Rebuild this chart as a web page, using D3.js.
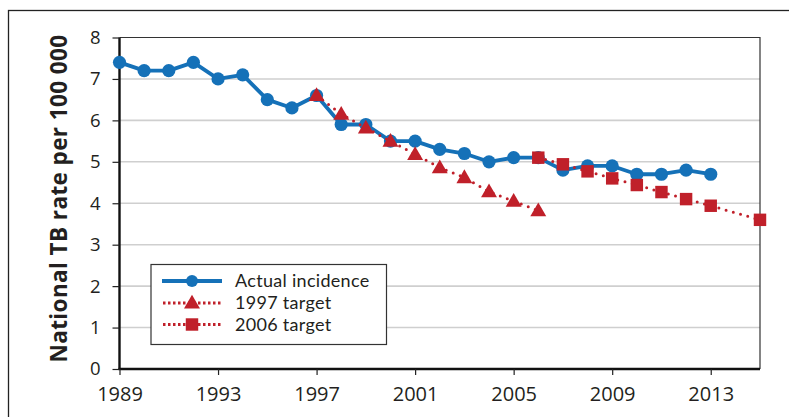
<!DOCTYPE html>
<html><head><meta charset="utf-8">
<script src="https://cdn.jsdelivr.net/npm/d3@7"></script>
<style>body{margin:0;background:#fff;} svg{display:block;}</style>
</head><body>
<svg id="c" width="789" height="417"></svg>
<script>
const actualYears = [1989,1990,1991,1992,1993,1994,1995,1996,1997,1998,1999,2000,2001,2002,2003,2004,2005,2006,2007,2008,2009,2010,2011,2012,2013];
const actualValues = [7.4,7.2,7.2,7.4,7.0,7.1,6.5,6.3,6.6,5.9,5.9,5.5,5.5,5.3,5.2,5.0,5.1,5.1,4.8,4.9,4.9,4.7,4.7,4.8,4.7];
const target1997Years = [1997,1998,1999,2000,2001,2002,2003,2004,2005,2006];
const target1997Values = [6.6,6.15,5.82,5.5,5.18,4.86,4.62,4.28,4.05,3.82];
const target2006Years = [2006,2007,2008,2009,2010,2011,2012,2013,2015];
const target2006Values = [5.1,4.94,4.77,4.6,4.44,4.27,4.1,3.94,3.6];
const xTickLabels = [1989,1993,1997,2001,2005,2009,2013];
const yTickLabels = [0,1,2,3,4,5,6,7,8];
const legendLabels = ["Actual incidence","1997 target","2006 target"];
const yTitle = "National TB rate per 100 000";

const blue = "#1571b8", red = "#c0202a", ink = "#231f20";
const svg = d3.select("#c");
const L = 119.5, R = 760, T = 37.5, B = 369;
const x = d3.scaleLinear().domain([1989,2015]).range([L,R]);
const y = d3.scaleLinear().domain([0,8]).range([B,T]);
const font = "'Open Sans', 'Noto Sans', sans-serif";

// outer frame
svg.append("rect").attr("x",8.5).attr("y",10.5).attr("width",900).attr("height",600)
  .attr("fill","none").attr("stroke","#222").attr("stroke-width",1.3);

// gridlines
svg.append("g").selectAll("line").data(yTickLabels.filter(d=>d>0 && d<8)).join("line")
  .attr("x1",L).attr("x2",R).attr("y1",d=>y(d)).attr("y2",d=>y(d))
  .attr("stroke","#cfcfcf").attr("stroke-width",1.6);

// plot border top/right
svg.append("path").attr("d",`M${L},${T}H${R}V${B}`).attr("fill","none").attr("stroke","#333").attr("stroke-width",1.2);

// axes
const xAxis = svg.append("g").attr("transform",`translate(0,${B})`)
  .call(d3.axisBottom(x).tickValues(xTickLabels).tickFormat(d3.format("d")).tickSize(6).tickPadding(12));
const yAxis = svg.append("g").attr("transform",`translate(${L},0)`)
  .call(d3.axisLeft(y).tickValues(yTickLabels).tickSize(7).tickPadding(12));
[xAxis,yAxis].forEach(g=>{
  g.select(".domain").attr("stroke","#111").attr("stroke-width",2.4);
  g.selectAll(".tick line").attr("stroke","#222").attr("stroke-width",1.2);
  g.selectAll("text").attr("font-family",font).attr("fill",ink);
});
xAxis.selectAll("text").attr("font-size",20);
yAxis.selectAll("text").attr("font-size",18.5);
xAxis.select(".domain").attr("d",`M${L-1},0H${R}`);
yAxis.select(".domain").attr("d",`M0,${B}V${T}`);

// y title
svg.append("text").attr("transform",`translate(67,198.5) rotate(-90)`)
  .attr("text-anchor","middle").attr("font-family",font).attr("font-weight",700)
  .attr("font-size",22.5).attr("letter-spacing",0.4).attr("fill",ink).text(yTitle);

const line = d3.line().x(d=>x(d[0])).y(d=>y(d[1]));
const actual = actualYears.map((yr,i)=>[yr,actualValues[i]]);
const t97 = target1997Years.map((yr,i)=>[yr,target1997Values[i]]);
const t06 = target2006Years.map((yr,i)=>[yr,target2006Values[i]]);

// actual
svg.append("path").datum(actual).attr("d",line).attr("fill","none").attr("stroke",blue).attr("stroke-width",3.8).attr("stroke-linejoin","round");
svg.append("g").selectAll("circle").data(actual).join("circle")
  .attr("cx",d=>x(d[0])).attr("cy",d=>y(d[1])).attr("r",6.6).attr("fill",blue);

// targets
const tri = d3.symbol().type(d3.symbolTriangle).size(110);
const sq = d3.symbol().type(d3.symbolSquare).size(155);
[[t97,tri],[t06,sq]].forEach(([data,sym])=>{
  svg.append("path").datum(data).attr("d",line).attr("fill","none").attr("stroke",red)
    .attr("stroke-width",3).attr("stroke-dasharray","0 7.5").attr("stroke-linecap","round");
  svg.append("g").selectAll("path").data(data).join("path")
    .attr("transform",d=>`translate(${x(d[0])},${y(d[1])+(sym===tri?1:0)})`).attr("d",sym).attr("fill",red);
});

// legend
const lg = svg.append("g");
lg.append("rect").attr("x",151).attr("y",264.5).attr("width",235.5).attr("height",80)
  .attr("fill","#fff").attr("stroke","#333").attr("stroke-width",1.2);
const rows = [281,303,324.5];
legendLabels.forEach((lab,i)=>{
  const yy = rows[i];
  if(i===0){
    lg.append("line").attr("x1",162).attr("x2",222).attr("y1",yy).attr("y2",yy).attr("stroke",blue).attr("stroke-width",3.8);
    lg.append("circle").attr("cx",192).attr("cy",yy).attr("r",6).attr("fill",blue);
  } else {
    lg.append("line").attr("x1",163).attr("x2",222).attr("y1",yy).attr("y2",yy).attr("stroke",red)
      .attr("stroke-width",3).attr("stroke-dasharray","2.5 2.5");
    lg.append("path").attr("transform",`translate(192,${yy+(i===1?1:0)})`).attr("d",i===1?tri:sq).attr("fill",red);
  }
  lg.append("text").attr("x",235).attr("y",yy).attr("dy","0.36em").attr("font-family","Lato, 'Open Sans', sans-serif")
    .attr("font-size",18).attr("letter-spacing",0.3).attr("fill",ink).text(lab);
});
</script>
</body></html>
